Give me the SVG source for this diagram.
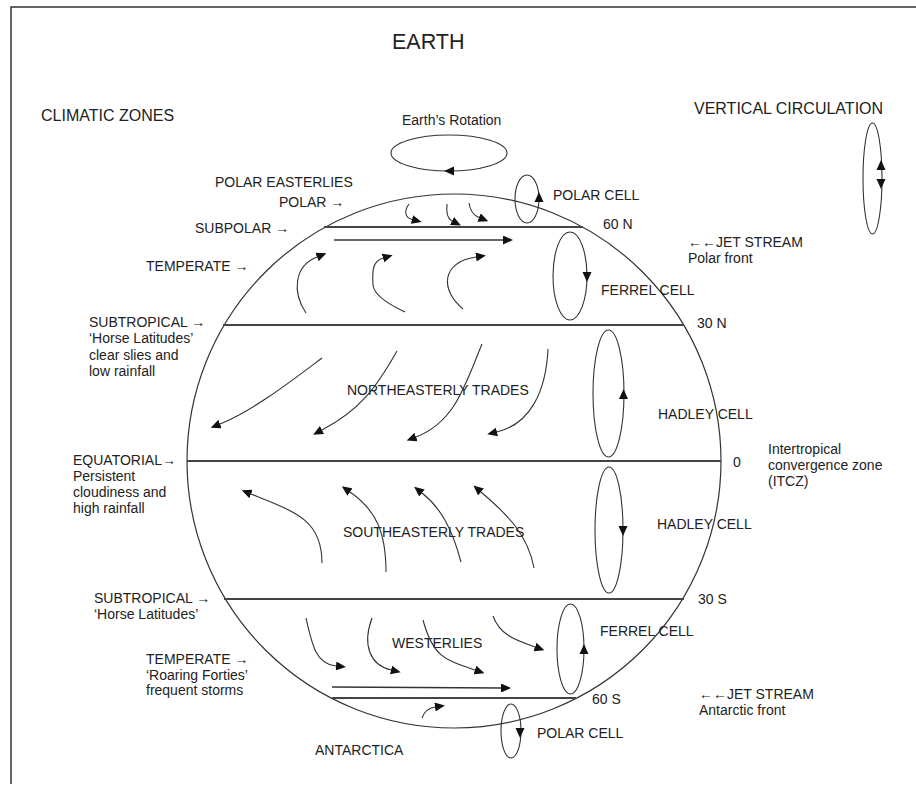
<svg xmlns="http://www.w3.org/2000/svg" width="916" height="787" viewBox="0 0 916 787">
<style>
text{font-family:"Liberation Sans",Arial,sans-serif;font-size:14px;fill:#222}
.big{font-size:16px}
.frame{stroke:#333;stroke-width:1.5;fill:none}
.globe{stroke:#333;stroke-width:1.2;fill:none}
.lat{stroke:#444;stroke-width:1.8;fill:none}
.cell{stroke:#333;stroke-width:1.1;fill:none}
.wind{stroke:#333;stroke-width:1.1;fill:none;marker-end:url(#ah)}
.jet{stroke:#333;stroke-width:1.4;fill:none;marker-end:url(#ah)}
.tri{fill:#111}
</style>
<defs>
<marker id="ah" markerUnits="userSpaceOnUse" markerWidth="10" markerHeight="9" refX="0" refY="4.5" orient="auto">
<path d="M0,0 L10,4.5 L0,9 z" fill="#111"/>
</marker>
</defs>
<rect width="916" height="787" fill="#fff"/>
<g id="frame">
<path class="frame" d="M11,784 V7 H916"/>
</g>
<g id="titles">
<text x="392" y="49" style="font-size:21.5px">EARTH</text>
<text class="big" x="41" y="121">CLIMATIC ZONES</text>
<text class="big" x="694" y="114">VERTICAL CIRCULATION</text>
</g>
<g id="globe">
<circle class="globe" cx="454" cy="461" r="267"/>
<line class="lat" x1="324" y1="227" x2="583" y2="227"/>
<line class="lat" x1="223" y1="325" x2="684" y2="325"/>
<line class="lat" x1="187" y1="461" x2="721" y2="461"/>
<line class="lat" x1="224" y1="599" x2="684" y2="599"/>
<line class="lat" x1="332" y1="698" x2="576" y2="698"/>
</g>
<g id="rotation">
<text x="402" y="125">Earth’s Rotation</text>
<ellipse class="cell" cx="449" cy="153" rx="58" ry="18"/>
<polygon class="tri" points="444,171 454,166.5 454,175.5"/>
</g>
<g id="vertical-circulation">
<ellipse class="cell" cx="872.5" cy="178.5" rx="9.5" ry="55.5"/>
<polygon class="tri" points="881,160 876.5,170 885.5,170"/>
<polygon class="tri" points="881,189 876.5,179 885.5,179"/>
</g>
<g id="polar-cell-n">
<ellipse class="cell" cx="527" cy="199" rx="12" ry="24"/>
<polygon class="tri" points="539,192 534.5,202 543.5,202"/>
<text x="553" y="200">POLAR CELL</text>
</g>
<g id="ferrel-cell-n">
<ellipse class="cell" cx="570" cy="276" rx="17" ry="44"/>
<polygon class="tri" points="587,282 582.5,272 591.5,272"/>
<text x="601" y="295">FERREL CELL</text>
</g>
<g id="hadley-cell-n">
<ellipse class="cell" cx="608.5" cy="393.5" rx="15.5" ry="63.5"/>
<polygon class="tri" points="623.5,389 619,399 628,399"/>
<text x="658" y="419">HADLEY CELL</text>
</g>
<g id="hadley-cell-s">
<ellipse class="cell" cx="609" cy="530" rx="14" ry="63"/>
<polygon class="tri" points="623,536 618.5,526 627.5,526"/>
<text x="657" y="529">HADLEY CELL</text>
</g>
<g id="ferrel-cell-s">
<ellipse class="cell" cx="570.5" cy="649" rx="13.5" ry="45"/>
<polygon class="tri" points="584,644 579.5,654 588.5,654"/>
<text x="600" y="636">FERREL CELL</text>
</g>
<g id="polar-cell-s">
<ellipse class="cell" cx="511" cy="731" rx="10" ry="27"/>
<polygon class="tri" points="520,738 515.5,728 524.5,728"/>
<text x="537" y="738">POLAR CELL</text>
</g>
<g id="latitudes">
<text x="603" y="229">60 N</text>
<text x="697" y="328">30 N</text>
<text x="733" y="467">0</text>
<text x="698" y="604">30 S</text>
<text x="592" y="704">60 S</text>
</g>
<g id="itcz">
<text x="768" y="454">Intertropical</text>
<text x="768" y="470">convergence zone</text>
<text x="768" y="486">(ITCZ)</text>
</g>
<g id="jet-stream-n">
<text x="688" y="247">←←JET STREAM</text>
<text x="688" y="263">Polar front</text>
</g>
<g id="jet-stream-s">
<text x="699" y="699">←←JET STREAM</text>
<text x="699" y="715">Antarctic front</text>
</g>
<g id="zones-left">
<text x="215" y="187">POLAR EASTERLIES</text>
<text x="279" y="207">POLAR →</text>
<text x="195" y="233">SUBPOLAR →</text>
<text x="146" y="271">TEMPERATE →</text>
<text x="89" y="327">SUBTROPICAL →</text>
<text x="89" y="343">‘Horse Latitudes’</text>
<text x="89" y="360">clear slies and</text>
<text x="89" y="376">low rainfall</text>
<text x="73" y="465">EQUATORIAL→</text>
<text x="73" y="481">Persistent</text>
<text x="73" y="497">cloudiness and</text>
<text x="73" y="513">high rainfall</text>
<text x="94" y="603">SUBTROPICAL →</text>
<text x="94" y="619">‘Horse Latitudes’</text>
<text x="146" y="664">TEMPERATE →</text>
<text x="146" y="680">‘Roaring Forties’</text>
<text x="146" y="695">frequent storms</text>
</g>
<g id="wind-labels">
<text x="347" y="395">NORTHEASTERLY TRADES</text>
<text x="343" y="537">SOUTHEASTERLY TRADES</text>
<text x="392" y="648">WESTERLIES</text>
<text x="315" y="755">ANTARCTICA</text>
</g>
<g id="connectors">
<path class="wind" d="M409,204 C403,212 406,218 412,219.5"/>
<path class="wind" d="M447,204 C446,213 448,219 452,221"/>
<path class="wind" d="M469,203 C470,210 473,215 479,217.5"/>
<path class="jet" d="M334,240 L503,240"/>
<path class="wind" d="M306,313 C292,292 294,266 317,257"/>
<path class="wind" d="M405,312 C390,305 374,296 373,285 C372,270 373,261 383,258"/>
<path class="wind" d="M463,309 C440,290 441,262 476,257"/>
<path class="wind" d="M322,358 C290,382 254,410 220,424"/>
<path class="wind" d="M397,351 C376,388 360,410 322,430"/>
<path class="wind" d="M482,344 C465,385 455,422 416,437"/>
<path class="wind" d="M548,349 C546,392 530,424 497,432"/>
<path class="wind" d="M322,563 C322,520 296,512 251,494"/>
<path class="wind" d="M386,572 C386,532 376,510 350,492"/>
<path class="wind" d="M461,562 C452,528 440,507 422,493"/>
<path class="wind" d="M534,568 C528,535 508,515 481,492"/>
<path class="wind" d="M306,618 C312,645 316,664 336,666"/>
<path class="wind" d="M372,618 C362,645 370,665 391,670"/>
<path class="wind" d="M423,620 C433,657 445,660 475,670"/>
<path class="wind" d="M493,616 C500,635 515,640 535,647"/>
<path class="jet" d="M332,687 L501,688"/>
<path class="wind" d="M422,718 C424,712 428,708 435,707"/>
</g>
</svg>
